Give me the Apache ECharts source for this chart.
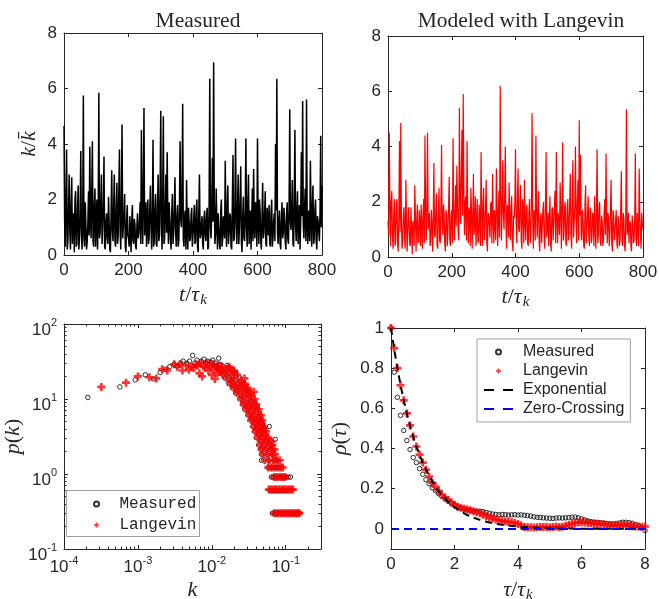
<!DOCTYPE html>
<html><head><meta charset="utf-8">
<script src="https://cdn.jsdelivr.net/npm/echarts/dist/echarts.min.js"></script>
<style>html,body{margin:0;padding:0;background:#fff}#c{width:659px;height:599px}</style>
</head><body><div id="c"></div>
<script>
// ---------- data ----------
// time traces: samples A at t = 0,4,8,...,800 and samples B at t = 2,6,10,...,798
const traceStep = 4;
const measuredTraceA = [
4.65,0.3,3.8,0.5,2.9,0.2,2.8,1.1,0.1,2.3,
0.4,2.5,0.6,3.75,0.2,5.75,0.3,1.9,0.5,2.3,
3.9,0.6,4.1,0.3,2.4,1.2,0.2,5.85,0.8,2.9,
1.0,3.55,0.2,1.5,0.4,1.2,0.1,3.05,0.5,2.9,
0.3,2.6,0.7,3.8,0.2,4.7,1.0,2.2,0.1,1.8,
0.6,1.4,0.1,1.8,0.4,1.1,0.2,1.5,0.8,1.9,
4.5,0.4,5.3,1.2,0.3,2.0,0.6,2.5,0.2,4.15,
0.5,2.2,0.3,2.9,0.7,5.2,0.2,5.0,0.6,2.9,
3.7,0.4,1.3,0.2,2.2,0.8,2.8,0.3,1.8,0.5,
4.1,1.0,5.45,0.3,1.6,2.7,0.2,1.2,0.6,1.7,
0.3,1.8,0.5,2.0,0.1,2.9,0.7,1.4,0.2,1.6,
0.5,1.7,0.3,6.35,0.6,3.5,6.95,0.4,2.4,0.2,
1.5,0.2,2.0,0.6,1.1,3.4,0.3,2.5,0.8,1.4,
0.2,3.6,0.6,4.2,0.4,2.9,1.0,3.2,0.1,2.1,
0.5,4.2,0.3,2.9,1.2,0.2,2.4,3.1,0.6,1.8,
4.2,0.4,1.6,0.2,2.6,0.8,2.3,0.3,1.1,1.8,
0.3,2.0,0.6,1.5,4.0,6.35,0.4,1.6,0.2,1.9,
0.8,1.3,0.2,1.9,0.4,5.25,0.9,2.7,0.3,4.5,
0.5,2.3,1.0,0.2,3.7,5.55,0.6,2.4,5.6,0.4,
1.6,3.4,0.3,2.5,0.6,2.0,0.2,1.2,0.5,4.3,
2.5];
const measuredTraceB = [
1.2,2.1,0.2,1.6,0.9,1.8,0.4,1.5,2.0,0.3,
1.7,0.2,1.4,0.8,1.2,0.6,1.9,0.2,1.1,0.7,
1.4,2.2,0.5,1.8,0.3,2.0,1.3,0.6,1.9,0.4,
1.8,0.3,1.2,0.6,2.1,0.2,1.5,0.9,1.7,0.5,
1.6,0.4,2.3,0.9,1.8,0.6,1.4,0.3,1.2,0.7,
0.3,0.9,1.2,0.5,1.3,0.3,1.0,0.6,1.2,0.4,
1.5,2.4,0.7,1.9,1.3,0.4,1.7,0.9,1.4,0.3,
1.6,0.4,1.8,0.5,2.2,1.1,1.9,0.4,1.7,0.8,
1.2,1.9,0.6,1.5,0.4,1.6,0.9,1.3,0.3,1.7,
1.3,2.1,0.6,1.4,0.2,1.0,1.7,0.5,1.4,0.3,
1.2,0.4,1.6,0.3,1.5,0.6,1.1,0.4,1.3,0.7,
1.4,0.2,1.8,1.0,1.6,1.2,1.9,0.8,1.1,1.5,
0.4,1.6,0.3,1.4,0.6,1.2,1.7,0.4,1.5,0.3,
1.9,0.5,1.7,1.1,1.6,0.4,2.0,0.5,1.3,0.6,
1.5,1.0,1.8,0.4,1.6,1.3,0.5,1.1,1.9,0.3,
1.3,2.0,0.5,1.4,0.6,1.5,0.4,1.7,0.7,0.4,
1.5,0.3,1.2,0.5,1.6,0.8,1.2,0.4,1.3,0.6,
1.7,0.5,1.4,0.6,1.8,1.2,1.6,0.4,1.9,1.1,
1.6,0.4,1.8,1.3,1.4,1.1,1.7,0.5,1.2,1.6,
0.5,1.5,1.7,0.4,1.6,0.5,1.4,0.8,1.6,1.0];
const langevinTraceA = [
1.3,4.5,0.4,2.4,0.3,2.1,0.6,2.1,0.2,4.2,
4.85,0.3,1.5,0.7,2.8,0.2,1.8,0.5,1.8,0.1,
1.2,2.6,0.2,1.9,0.6,1.3,1.9,0.3,2.1,4.4,
0.6,4.5,1.2,0.4,1.7,0.2,3.4,0.7,2.3,0.3,
2.5,0.5,4.05,0.8,1.6,0.2,1.5,0.9,2.9,0.4,
1.7,4.3,0.6,2.6,3.3,0.9,5.4,1.2,4.6,5.9,
0.8,2.2,4.2,0.5,1.6,2.5,0.3,3.0,1.1,0.4,
2.1,0.6,1.4,3.8,0.4,2.5,1.0,2.8,0.2,1.5,
0.7,2.0,3.0,0.5,1.2,3.2,0.4,2.4,6.2,0.6,
3.5,1.0,4.0,0.3,1.8,2.7,0.6,2.2,0.2,1.4,
3.9,0.5,3.2,0.9,2.6,0.3,1.7,2.8,0.6,1.9,
0.4,2.1,0.8,5.2,0.3,1.5,4.4,0.7,2.4,0.2,
1.6,0.5,2.0,0.3,3.8,1.1,0.4,2.2,0.2,1.8,
0.6,2.4,3.8,0.5,1.3,2.7,0.3,4.15,0.8,2.0,
0.4,2.1,0.9,3.0,0.3,3.5,1.2,4.0,0.5,2.8,
4.95,3.7,0.6,1.4,0.3,2.6,1.0,2.2,0.4,1.6,
0.7,1.5,2.2,0.3,3.9,0.8,2.0,0.4,1.3,0.6,
2.1,3.75,0.5,1.4,0.7,2.8,0.2,1.5,0.9,1.7,
0.3,1.2,0.6,3.1,0.4,1.4,0.2,5.35,1.0,0.5,
1.3,0.2,1.2,0.6,3.75,0.4,1.1,3.2,0.8,1.6,
1.0];
const langevinTraceB = [
0.8,1.9,2.0,0.7,1.6,0.4,1.9,0.5,1.5,0.9,
1.4,0.6,1.8,0.3,1.3,0.9,1.2,0.4,1.0,1.3,
0.4,1.5,1.2,0.5,1.7,0.4,1.1,1.6,0.5,1.9,
1.8,1.0,1.6,0.6,1.2,1.5,0.8,1.7,0.4,1.6,
0.6,1.8,1.2,1.9,0.5,1.7,0.4,1.8,0.6,1.5,
0.5,2.0,1.4,1.1,1.9,0.6,2.2,3.0,1.5,2.4,
2.0,0.6,1.5,1.8,0.4,1.7,1.4,0.8,2.2,1.2,
0.5,1.9,0.4,1.5,2.0,0.6,1.8,0.5,1.6,1.1,
1.9,0.5,1.4,1.7,0.6,2.0,1.3,0.7,2.4,1.8,
1.6,2.2,1.2,1.9,0.7,1.4,1.8,0.5,1.5,2.0,
1.2,2.0,1.0,1.8,0.6,2.1,0.5,1.3,1.7,0.5,
1.6,0.5,1.9,1.4,1.7,0.6,1.8,1.5,0.6,1.4,
0.5,1.7,0.6,1.9,0.7,1.6,1.4,0.5,1.7,0.6,
1.8,0.5,1.4,1.6,0.8,1.7,2.0,0.6,1.8,0.5,
1.7,0.6,2.0,0.8,1.9,0.7,1.8,1.5,2.1,0.6,
1.5,0.8,1.7,0.4,1.9,0.5,1.6,0.7,1.8,0.5,
1.6,0.4,1.0,1.7,0.5,1.8,0.6,1.5,0.4,1.6,
0.8,1.4,1.6,0.4,1.8,0.5,1.7,0.6,1.3,0.5,
1.5,0.4,1.7,0.6,1.6,0.4,1.4,0.8,1.6,1.2,
0.4,1.5,0.5,1.4,0.6,1.6,0.4,1.5,0.3,1.2];

const pdfMeasured = [
[0.00021,10.5],[0.00057,14.5],[0.00092,18],[0.00126,21],[0.00163,18.5],[0.0020,22.5],[0.00235,25],[0.0027,27],[0.0031,29],[0.0034,27.5],
[0.0038,30],[0.0041,32],[0.0046,30],[0.0050,32],[0.0055,38],[0.0059,30],[0.0063,33],[0.0068,29],[0.0072,32],[0.0078,34],
[0.0083,30],[0.0088,32],[0.0093,29],[0.0098,31],[0.0103,33],[0.0108,28],[0.0113,30],[0.0118,27],[0.0124,35],[0.0129,29],
[0.011,28],[0.013,28],[0.016,28],[0.012,25],[0.015,25],[0.019,25],[0.013,22],[0.017,22],[0.021,22],
[0.015,19],[0.019,19],[0.024,19],[0.017,16],[0.022,16],[0.027,16],[0.019,14],[0.024,14],[0.030,14],
[0.021,12],[0.027,12],[0.033,12],[0.024,10],[0.030,10],[0.036,10],[0.026,8.5],[0.032,8.5],[0.039,8.5],
[0.028,7.3],[0.035,7.3],[0.042,7.3],[0.031,6.1],[0.037,6.1],[0.045,6.1],[0.034,5.2],[0.040,5.2],[0.047,5.2],
[0.036,4.3],[0.043,4.3],[0.050,4.3],[0.060,4.3],[0.038,3.7],[0.045,3.7],[0.052,3.7],
[0.040,3.05],[0.048,3.05],[0.056,3.05],[0.072,2.9],[0.043,2.44],[0.051,2.44],[0.060,2.44],
[0.046,2.13],[0.053,2.13],[0.062,2.13],[0.047,1.83],[0.056,1.83],[0.066,1.83],
[0.047,1.52],[0.058,1.52],[0.069,1.52],[0.076,1.52],[0.058,1.22],[0.062,1.22],[0.066,1.22],[0.071,1.22],[0.076,1.22],[0.082,1.22],[0.088,1.22],
[0.064,0.91],[0.068,0.91],[0.073,0.91],[0.078,0.91],[0.083,0.91],[0.089,0.91],[0.095,0.91],[0.101,0.91],[0.108,0.91],[0.116,0.91],
[0.063,0.60],[0.068,0.60],[0.073,0.60],[0.078,0.60],[0.084,0.60],[0.090,0.60],[0.097,0.60],[0.104,0.60],
[0.066,0.30],[0.070,0.30],[0.075,0.30],[0.080,0.30],[0.085,0.30],[0.091,0.30],[0.097,0.30],[0.104,0.30],[0.111,0.30],[0.119,0.30],[0.127,0.30],[0.136,0.30],[0.146,0.30],[0.156,0.30],
[0.0125,26.5],[0.0165,26.5],[0.014,23.5],[0.0185,23.5],[0.016,20.5],[0.021,20.5],[0.018,17.5],[0.024,17.5],
[0.020,15],[0.026,15],[0.022,13],[0.029,13],[0.025,11],[0.032,11],[0.027,9.2],[0.034,9.2],[0.030,7.9],[0.037,7.9],
[0.033,6.7],[0.040,6.7],[0.035,5.6],[0.043,5.6],[0.038,4.8],[0.046,4.8],[0.041,4.0],[0.049,4.0],
[0.043,3.35],[0.051,3.35],[0.046,2.74],[0.054,2.74],[0.063,2.74]];
const pdfLangevin = [
[0.00032,14.5],[0.00069,16.5],[0.0010,20],[0.00143,19.5],[0.00177,18.8],[0.00213,25],[0.0025,24],[0.0031,29],[0.0034,27],[0.0037,29],
[0.0040,24],[0.0045,28],[0.0049,24.5],[0.0053,27],[0.0057,26],[0.0061,29],[0.0064,28],[0.0068,22],[0.0071,30],[0.0074,20],
[0.0078,27],[0.0082,26],[0.0087,30],[0.0090,24],[0.0095,27],[0.0100,21],[0.0103,29],[0.0107,25],[0.0110,18.5],[0.0113,27],[0.0118,22],[0.0122,28],
[0.012,27],[0.014,27],[0.017,27],[0.013,24],[0.016,24],[0.020,24],[0.014,21],[0.018,21],[0.022,21],
[0.016,18.8],[0.020,18.8],[0.0276,18.8],[0.018,16],[0.023,16],[0.028,16],[0.020,14],[0.025,14],[0.031,14],
[0.022,12],[0.028,12],[0.034,12],[0.037,12.5],[0.025,10],[0.031,10],[0.038,10],[0.027,8.5],[0.033,8.5],[0.040,8.5],
[0.029,7.3],[0.036,7.3],[0.043,7.3],[0.032,6.1],[0.038,6.1],[0.046,6.1],[0.034,5.2],[0.041,5.2],[0.048,5.2],
[0.037,4.3],[0.044,4.3],[0.051,4.3],[0.039,3.7],[0.046,3.7],[0.054,3.7],[0.042,3.05],[0.049,3.05],[0.057,3.05],
[0.045,2.44],[0.052,2.44],[0.061,2.44],[0.066,2.44],[0.047,2.13],[0.055,2.13],[0.064,2.13],[0.070,2.13],
[0.049,1.83],[0.057,1.83],[0.066,1.83],[0.072,1.83],[0.052,1.52],[0.060,1.52],[0.068,1.52],[0.076,1.52],[0.083,1.52],
[0.058,1.22],[0.064,1.22],[0.071,1.22],[0.078,1.22],[0.085,1.22],[0.091,1.22],
[0.070,0.91],[0.076,0.91],[0.083,0.91],[0.090,0.91],[0.098,0.91],
[0.059,0.62],[0.063,0.62],[0.067,0.62],[0.071,0.62],[0.075,0.62],[0.080,0.62],[0.085,0.62],[0.090,0.62],[0.095,0.62],[0.101,0.62],[0.107,0.62],[0.113,0.62],[0.119,0.62],[0.125,0.62],
[0.070,0.30],[0.075,0.30],[0.080,0.30],[0.086,0.30],[0.092,0.30],[0.098,0.30],[0.105,0.30],[0.112,0.30],[0.120,0.30],[0.128,0.30],[0.137,0.30],[0.146,0.30],[0.152,0.30],
[0.0135,25.5],[0.0175,25.5],[0.015,22.5],[0.020,22.5],[0.019,17.5],[0.025,17.5],[0.021,15],[0.027,15],[0.023,13],[0.030,13],
[0.026,11],[0.033,11],[0.028,9.2],[0.036,9.2],[0.031,7.9],[0.039,7.9],[0.033,6.7],[0.042,6.7],[0.036,5.6],[0.044,5.6],
[0.039,4.8],[0.047,4.8],[0.042,4.0],[0.050,4.0],[0.044,3.35],[0.053,3.35],[0.047,2.74],[0.056,2.74],[0.064,2.74]];
const pdfXTicks = [1e-4, 1e-3, 1e-2, 1e-1];
const pdfYTicks = [1e-1, 1, 10, 100];

const acfStep = 0.1;
const acfMeasured = [
1.0,0.78,0.655,0.565,0.49,0.44,0.395,0.355,0.33,0.30,
0.272,0.245,0.225,0.205,0.19,0.175,0.162,0.15,0.138,0.127,
0.117,0.11,0.104,0.099,0.095,0.092,0.089,0.087,0.088,0.086,
0.082,0.078,0.074,0.072,0.07,0.072,0.071,0.069,0.07,0.071,
0.069,0.07,0.068,0.066,0.064,0.06,0.058,0.057,0.055,0.054,
0.053,0.052,0.054,0.055,0.054,0.055,0.056,0.058,0.059,0.055,
0.05,0.045,0.04,0.036,0.034,0.033,0.031,0.029,0.027,0.025,
0.025,0.027,0.03,0.033,0.033,0.031,0.028,0.022,0.015,0.005,
-0.008];
const acfLangevin = [
1.0,0.9,0.8,0.715,0.64,0.575,0.515,0.46,0.41,0.37,
0.33,0.295,0.26,0.23,0.21,0.19,0.17,0.155,0.145,0.132,
0.12,0.11,0.105,0.1,0.097,0.093,0.088,0.083,0.078,0.07,
0.063,0.057,0.052,0.047,0.043,0.04,0.037,0.035,0.033,0.03,
0.025,0.017,0.01,0.008,0.008,0.007,0.008,0.009,0.01,0.009,
0.008,0.01,0.012,0.01,0.011,0.014,0.02,0.026,0.03,0.032,
0.033,0.032,0.03,0.028,0.025,0.025,0.024,0.022,0.02,0.018,
0.016,0.015,0.016,0.018,0.017,0.015,0.013,0.012,0.012,0.011,
0.012];
const expTau = [0,0.1,0.2,0.3,0.4,0.5,0.6,0.7,0.8,0.9,1.0,1.2,1.4,1.6,1.8,2.0,2.2,2.4,2.6,2.8,3.0,3.2,3.4,3.6,3.8,4.0,4.4,4.8,5.2,6,7,8];
const expRho = [1,0.895,0.801,0.717,0.641,0.574,0.513,0.459,0.411,0.368,0.329,0.264,0.211,0.169,0.135,0.108,0.087,0.069,0.056,0.045,0.036,0.029,0.023,0.018,0.015,0.012,0.0075,0.0048,0.003,0.0013,0.0004,0.0001];
const zeroTau = [0, 8];
const zeroRho = [0, 0];
const acfYTicks = [0, 0.2, 0.4, 0.6, 0.8, 1];

// ---------- styling helpers ----------
const AX = '#262626';
const SANS = 'Liberation Sans';
const SERIF = 'Liberation Serif';
const nameRich = {
  i: {fontFamily: SERIF, fontStyle: 'italic', fontSize: 22, color: AX},
  n: {fontFamily: SERIF, fontSize: 22, color: AX},
  sub: {fontFamily: SERIF, fontStyle: 'italic', fontSize: 15, color: AX, padding: [10, 0, 0, 1]}
};
const supRich = {
  b: {fontFamily: SANS, fontSize: 17, color: AX, padding: [12, 0, 0, 0]},
  s: {fontFamily: SANS, fontSize: 11, color: AX, padding: [0, 0, 2, 0]}
};
function axis(o) {
  const a = {
    type: 'value',
    axisLine: {show: true, onZero: false, lineStyle: {color: AX, width: 1}},
    axisTick: {show: true, inside: true, length: 4, lineStyle: {color: AX, width: 1}},
    axisLabel: {show: true, color: AX, fontFamily: SANS, fontSize: 17, margin: 7},
    splitLine: {show: false},
    nameLocation: 'middle',
    nameTextStyle: {rich: nameRich, fontFamily: SERIF, fontSize: 22, color: AX}
  };
  for (const k in o) {
    if (a[k] && typeof a[k] === 'object' && !Array.isArray(a[k]) && typeof o[k] === 'object' && !Array.isArray(o[k])) a[k] = Object.assign({}, a[k], o[k]);
    else a[k] = o[k];
  }
  return a;
}
const noLabel = {show: false};
const logMinor = (lo, hi) => { const r = []; for (let e = lo; e <= hi; e++) for (let m = 2; m <= 9; m++) r.push(+(m * Math.pow(10, e)).toPrecision(3)); return r; };
const xMinor = logMinor(-4, -1).filter(v => v < 0.3);
const yMinor = logMinor(-1, 1);
const logFmt = v => '{b|10}{s|' + Math.round(Math.log10(v)) + '}';
const plusSymbol = 'path://M2,0h2v2h2v2h-2v2h-2v-2h-2v-2h2z';
const dashIcon = 'path://M0,0h10v2h-10z M19,0h10v2h-10z';
const traceData = (a, b) => { const d = []; a.forEach((v, i) => { d.push([i * traceStep, v]); if (i < b.length) d.push([i * traceStep + traceStep / 2, b[i]]); }); return d; };

const xAxes = [
  axis({gridIndex: 0, min: 0, max: 800, interval: 200, position: 'bottom', name: '{i|t}{n|/}{i|τ}{sub|k}', nameGap: 28}),
  axis({gridIndex: 0, min: 0, max: 800, interval: 200, position: 'top', axisLabel: noLabel}),
  axis({gridIndex: 1, min: 0, max: 800, interval: 200, position: 'bottom', name: '{i|t}{n|/}{i|τ}{sub|k}', nameGap: 28}),
  axis({gridIndex: 1, min: 0, max: 800, interval: 200, position: 'top', axisLabel: noLabel}),
  axis({gridIndex: 2, type: 'log', logBase: 10, min: 1e-4, max: 0.3, position: 'bottom', name: '{i|k}', nameGap: 30,
        axisTick: {customValues: pdfXTicks}, axisLabel: {customValues: pdfXTicks, formatter: logFmt, rich: supRich, margin: -2}}),
  axis({gridIndex: 2, type: 'log', logBase: 10, min: 1e-4, max: 0.3, position: 'bottom', axisLine: {show: false}, axisTick: {customValues: xMinor, length: 2.5}, axisLabel: noLabel}),
  axis({gridIndex: 2, type: 'log', logBase: 10, min: 1e-4, max: 0.3, position: 'top', axisTick: {customValues: pdfXTicks}, axisLabel: noLabel}),
  axis({gridIndex: 2, type: 'log', logBase: 10, min: 1e-4, max: 0.3, position: 'top', axisLine: {show: false}, axisTick: {customValues: xMinor, length: 2.5}, axisLabel: noLabel}),
  axis({gridIndex: 3, min: 0, max: 8, interval: 2, position: 'bottom', name: '{i|τ}{n|/}{i|τ}{sub|k}', nameGap: 29}),
  axis({gridIndex: 3, min: 0, max: 8, interval: 2, position: 'top', axisLabel: noLabel})
];
const yAxes = [
  axis({gridIndex: 0, min: 0, max: 8, interval: 2, position: 'left', name: '{i|k}{n|/}{i|k\u0304}', nameGap: 24}),
  axis({gridIndex: 0, min: 0, max: 8, interval: 2, position: 'right', axisLabel: noLabel}),
  axis({gridIndex: 1, min: 0, max: 8, interval: 2, position: 'left'}),
  axis({gridIndex: 1, min: 0, max: 8, interval: 2, position: 'right', axisLabel: noLabel}),
  axis({gridIndex: 2, type: 'log', logBase: 10, min: 0.1, max: 100, position: 'left', name: '{i|p}{n|(}{i|k}{n|)}', nameGap: 38,
        axisTick: {customValues: pdfYTicks}, axisLabel: {customValues: pdfYTicks, formatter: logFmt, rich: supRich, margin: 7}}),
  axis({gridIndex: 2, type: 'log', logBase: 10, min: 0.1, max: 100, position: 'left', axisLine: {show: false}, axisTick: {customValues: yMinor, length: 2.5}, axisLabel: noLabel}),
  axis({gridIndex: 2, type: 'log', logBase: 10, min: 0.1, max: 100, position: 'right', axisTick: {customValues: pdfYTicks}, axisLabel: noLabel}),
  axis({gridIndex: 2, type: 'log', logBase: 10, min: 0.1, max: 100, position: 'right', axisLine: {show: false}, axisTick: {customValues: yMinor, length: 2.5}, axisLabel: noLabel}),
  axis({gridIndex: 3, min: -0.1, max: 1, position: 'left', name: '{i|ρ}{n|(}{i|τ}{n|)}', nameGap: 40,
        axisTick: {customValues: acfYTicks}, axisLabel: {customValues: acfYTicks}}),
  axis({gridIndex: 3, min: -0.1, max: 1, position: 'right', axisTick: {customValues: acfYTicks}, axisLabel: noLabel})
];

const option = {
  backgroundColor: '#fff',
  animation: false,
  title: [
    {text: 'Measured', left: 193, top: 5, textAlign: 'center', textStyle: {fontFamily: SERIF, fontSize: 21.5, fontWeight: 'normal', color: AX}},
    {text: 'Modeled with Langevin', left: 516, top: 5, textAlign: 'center', textStyle: {fontFamily: SERIF, fontSize: 21.5, fontWeight: 'normal', color: AX}}
  ],
  grid: [
    {left: 64, top: 33, right: 337, bottom: 344, outerBoundsMode: 'none', containLabel: false},
    {left: 388, top: 36, right: 16, bottom: 342, outerBoundsMode: 'none', containLabel: false},
    {left: 64, top: 324, right: 338, bottom: 50, outerBoundsMode: 'none', containLabel: false},
    {left: 391, top: 328, right: 14, bottom: 50, outerBoundsMode: 'none', containLabel: false}
  ],
  graphic: [
    {type: 'rect', left: 66, top: 490, z: 50, shape: {width: 133, height: 46}, style: {fill: '#fff', stroke: '#a0a0a0', lineWidth: 1}}
  ],
  xAxis: xAxes,
  yAxis: yAxes,
  legend: [
    {left: 93, top: 496, orient: 'vertical', itemWidth: 36, itemHeight: 5, itemGap: 5, z: 60,
     data: [{name: 'Measured', icon: 'circle'}, {name: 'Langevin', icon: plusSymbol}],
     padding: 0, selectedMode: false,
     textStyle: {fontFamily: 'Liberation Mono', fontSize: 16, color: AX, lineHeight: 16}},
    {left: 477, top: 339, orient: 'vertical', itemWidth: 29, itemHeight: 5, itemGap: 3,
     data: [{name: 'Measured', icon: 'circle'}, {name: 'Langevin', icon: plusSymbol},
            {name: 'Exponential', icon: dashIcon}, {name: 'Zero-Crossing', icon: dashIcon}],
     padding: [5, 6, 5, 7], borderColor: '#a0a0a0', borderWidth: 1, backgroundColor: '#fff', selectedMode: false,
     textStyle: {fontFamily: SANS, fontSize: 16, color: AX, lineHeight: 16, padding: [0, 0, 0, 5]}}
  ],
  series: [
    {type: 'line', name: 'trace-measured', xAxisIndex: 0, yAxisIndex: 0, showSymbol: false, symbol: 'none',
     data: traceData(measuredTraceA, measuredTraceB), lineStyle: {color: '#000', width: 1.5}, itemStyle: {color: '#000'}},
    {type: 'line', name: 'trace-langevin', xAxisIndex: 2, yAxisIndex: 2, showSymbol: false, symbol: 'none',
     data: traceData(langevinTraceA, langevinTraceB), lineStyle: {color: '#ff0000', width: 1.2}, itemStyle: {color: '#ff0000'}},
    {type: 'scatter', name: 'Measured', xAxisIndex: 4, yAxisIndex: 4, symbol: 'circle', symbolSize: 4.5,
     data: pdfMeasured, itemStyle: {color: 'rgba(0,0,0,0)', borderColor: '#000', borderWidth: 1}},
    {type: 'scatter', name: 'Langevin', xAxisIndex: 4, yAxisIndex: 4, symbol: plusSymbol, symbolSize: 8,
     data: pdfLangevin, itemStyle: {color: '#ff0000'}},
    {type: 'scatter', name: 'Measured', xAxisIndex: 8, yAxisIndex: 8, symbol: 'circle', symbolSize: 4.5,
     data: acfMeasured.map((v, i) => [i * acfStep, v]), itemStyle: {color: 'rgba(0,0,0,0)', borderColor: '#000', borderWidth: 1}},
    {type: 'scatter', name: 'Langevin', xAxisIndex: 8, yAxisIndex: 8, symbol: plusSymbol, symbolSize: 8,
     data: acfLangevin.map((v, i) => [i * acfStep, v]), itemStyle: {color: '#ff0000'}},
    {type: 'line', name: 'Exponential', xAxisIndex: 8, yAxisIndex: 8, showSymbol: false, symbol: 'none',
     data: expTau.map((t, i) => [t, expRho[i]]), lineStyle: {color: '#000', width: 2, type: [7, 5]}, itemStyle: {color: '#000'}},
    {type: 'line', name: 'Zero-Crossing', xAxisIndex: 8, yAxisIndex: 8, showSymbol: false, symbol: 'none',
     data: zeroTau.map((t, i) => [t, zeroRho[i]]), lineStyle: {color: '#0000ff', width: 2, type: [8, 5]}, itemStyle: {color: '#0000ff'}}
  ]
};
const chart = echarts.init(document.getElementById('c'), null, {renderer: 'canvas'});
chart.setOption(option);
</script></body></html>
